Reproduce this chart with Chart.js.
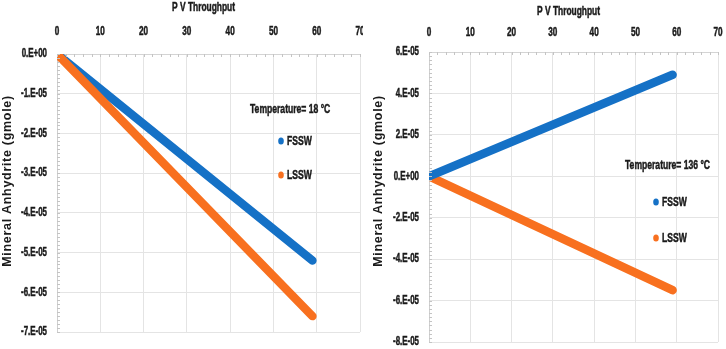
<!DOCTYPE html>
<html>
<head>
<meta charset="utf-8">
<script src="https://cdn.jsdelivr.net/npm/chart.js@4.4.1/dist/chart.umd.min.js"></script>
<style>
  body { margin: 0; background: #fff; }
  .box { position: absolute; top: 0; height: 349px; width: 363px; }
  #left { left: 0; }
  #right { left: 363px; }
</style>
</head>
<body>
<div class="box" id="left"><canvas id="chartLeft"></canvas></div>
<div class="box" id="right"><canvas id="chartRight"></canvas></div>
<script>
// PV throughput at the start and end of each run
const pvThroughput = [0, 59];

// 18 °C case
const fssw18 = [0, -5.2e-5];
const lssw18 = [0, -6.6e-5];

// 136 °C case
const fssw136 = [0, 4.9e-5];
const lssw136 = [0, -5.5e-5];

const xTicks = [0, 10, 20, 30, 40, 50, 60, 70];
const yTicksLeft = [0, -1e-5, -2e-5, -3e-5, -4e-5, -5e-5, -6e-5, -7e-5];
const yLabelsLeft = ["0.E+00", "-1.E-05", "-2.E-05", "-3.E-05", "-4.E-05", "-5.E-05", "-6.E-05", "-7.E-05"];
const yTicksRight = [6e-5, 4e-5, 2e-5, 0, -2e-5, -4e-5, -6e-5, -8e-5];
const yLabelsRight = ["6.E-05", "4.E-05", "2.E-05", "0.E+00", "-2.E-05", "-4.E-05", "-6.E-05", "-8.E-05"];

const BLUE = "#1571c6";
const ORANGE = "#f8701f";
const TEXT = "#1a1a1a";
const SANS = "'Liberation Sans', Arial, sans-serif";

function points(ys) {
  return pvThroughput.map((x, i) => ({ x: x, y: ys[i] }));
}

function labelFor(ticks, labels, value) {
  for (let i = 0; i < ticks.length; i++) {
    if (Math.abs(ticks[i] - value) < 1e-9) return labels[i];
  }
  return "";
}

// condensed bold text, like the original's narrow font
function narrow(ctx, text, x, y, align, size, sx) {
  ctx.save();
  ctx.translate(x, y);
  ctx.scale(sx, 1);
  ctx.font = "bold " + size + "px " + SANS;
  ctx.textAlign = align;
  ctx.textBaseline = "middle";
  ctx.fillStyle = TEXT;
  ctx.strokeStyle = TEXT;
  ctx.lineWidth = 0.5;
  ctx.fillText(text, 0, 0);
  ctx.strokeText(text, 0, 0);
  ctx.restore();
}

// axis labels, titles, minor ticks
const axisText = {
  id: "axisText",
  afterDraw(chart, args, o) {
    const ctx = chart.ctx;
    const a = chart.chartArea;
    const xs = chart.scales.x;
    const ys = chart.scales.y;

    // minor ticks
    ctx.save();
    ctx.strokeStyle = "#c4c4c4";
    ctx.lineWidth = 1;
    ctx.beginPath();
    for (let v = xs.min; v <= xs.max + 1e-9; v += 2) {
      const px = Math.round(xs.getPixelForValue(v)) + 0.5;
      ctx.moveTo(px, a.top);
      ctx.lineTo(px, a.top + 3);
    }
    const minorY = o.yStep / 10;
    for (let v = ys.min; v <= ys.max + 1e-12; v += minorY) {
      const py = Math.round(ys.getPixelForValue(v)) + 0.5;
      ctx.moveTo(a.left, py);
      ctx.lineTo(a.left + 3, py);
    }
    ctx.stroke();
    ctx.restore();

    xs.ticks.forEach((t) => narrow(ctx, String(t.value), xs.getPixelForValue(t.value), o.xTickY, "center", 12, 0.68));
    ys.ticks.forEach((t) =>
      narrow(ctx, labelFor(o.yTicks, o.yLabels, t.value), a.left - 10, ys.getPixelForValue(t.value), "right", 12, 0.66)
    );
    narrow(ctx, "P V Throughput", (a.left + a.right) / 2 - 5, o.titleY, "center", 12, 0.7);

    ctx.save();
    ctx.translate(o.yTitleX, 181);
    ctx.rotate(-Math.PI / 2);
    ctx.font = "bold 12.5px " + SANS;
    ctx.letterSpacing = "0.7px";
    ctx.textAlign = "center";
    ctx.textBaseline = "middle";
    ctx.fillStyle = TEXT;
    ctx.fillText("Mineral Anhydrite (gmole)", 0, 0);
    ctx.restore();
  },
};

// legend drawn inside the plot, placed relative to the chart area
const innerLegend = {
  id: "innerLegend",
  afterDatasetsDraw(chart, args, o) {
    const ctx = chart.ctx;
    const a = chart.chartArea;
    narrow(ctx, o.title, a.left + o.titleX, a.top + o.titleY, "left", 13, 0.66);
    chart.data.datasets.forEach((ds, i) => {
      const y = a.top + o.itemY[i];
      const x = a.left + o.itemX;
      ctx.save();
      ctx.fillStyle = ds.borderColor;
      ctx.beginPath();
      ctx.ellipse(x, y, 2.8, 3.6, 0, 0, Math.PI * 2);
      ctx.fill();
      ctx.restore();
      narrow(ctx, ds.label, x + 6, y, "left", 13, 0.66);
    });
  },
};

function makeChart(id, fssw, lssw, yMin, yMax, yTicks, yLabels, cfg) {
  return new Chart(document.getElementById(id), {
    type: "line",
    data: {
      datasets: [
        { label: "FSSW", data: points(fssw), borderColor: BLUE, backgroundColor: BLUE, order: cfg.order[0] },
        { label: "LSSW", data: points(lssw), borderColor: ORANGE, backgroundColor: ORANGE, order: cfg.order[1] },
      ],
    },
    options: {
      responsive: true,
      maintainAspectRatio: false,
      animation: false,
      layout: { padding: { left: 0, right: cfg.padRight, top: 0, bottom: cfg.padBottom } },
      elements: {
        line: { borderWidth: 8.5, borderCapStyle: "round", tension: 0 },
        point: { radius: 0 },
      },
      plugins: {
        legend: { display: false },
        tooltip: { enabled: false },
        innerLegend: cfg.legend,
        axisText: cfg.axis,
      },
      scales: {
        x: {
          type: "linear",
          position: "top",
          min: 0,
          max: 70,
          afterBuildTicks: (s) => { s.ticks = xTicks.map((v) => ({ value: v })); },
          afterFit: (s) => { s.height = cfg.topH; s.paddingLeft = 0; s.paddingRight = 0; },
          ticks: { display: false },
          grid: { color: "#e4e4e4", drawTicks: false },
          border: { color: "#d4d4d4" },
        },
        y: {
          type: "linear",
          min: yMin,
          max: yMax,
          afterBuildTicks: (s) => { s.ticks = yTicks.map((v) => ({ value: v })); },
          afterFit: (s) => { s.width = cfg.leftW; s.paddingTop = 0; s.paddingBottom = 0; },
          ticks: { display: false },
          grid: { color: "#e4e4e4", drawTicks: false },
          border: { color: "#cfcfcf" },
        },
      },
    },
    plugins: [innerLegend, axisText],
  });
}

makeChart("chartLeft", fssw18, lssw18, -7e-5, 0, yTicksLeft, yLabelsLeft, {
  order: [1, 0],
  topH: 54, leftW: 57, padRight: 3, padBottom: 17,
  legend: { title: "Temperature= 18 °C", titleX: 193, titleY: 55, itemX: 224, itemY: [87, 121] },
  axis: { yStep: 1e-5, yTicks: yTicksLeft, yLabels: yLabelsLeft, xTickY: 32, titleY: 8, yTitleX: 8 },
});

makeChart("chartRight", fssw136, lssw136, -8e-5, 6e-5, yTicksRight, yLabelsRight, {
  order: [0, 1],
  topH: 52, leftW: 66, padRight: 8, padBottom: 7,
  legend: { title: "Temperature= 136 °C", titleX: 196, titleY: 113, itemX: 227, itemY: [150, 186] },
  axis: { yStep: 2e-5, yTicks: yTicksRight, yLabels: yLabelsRight, xTickY: 33, titleY: 12, yTitleX: 16 },
});
</script>
</body>
</html>
